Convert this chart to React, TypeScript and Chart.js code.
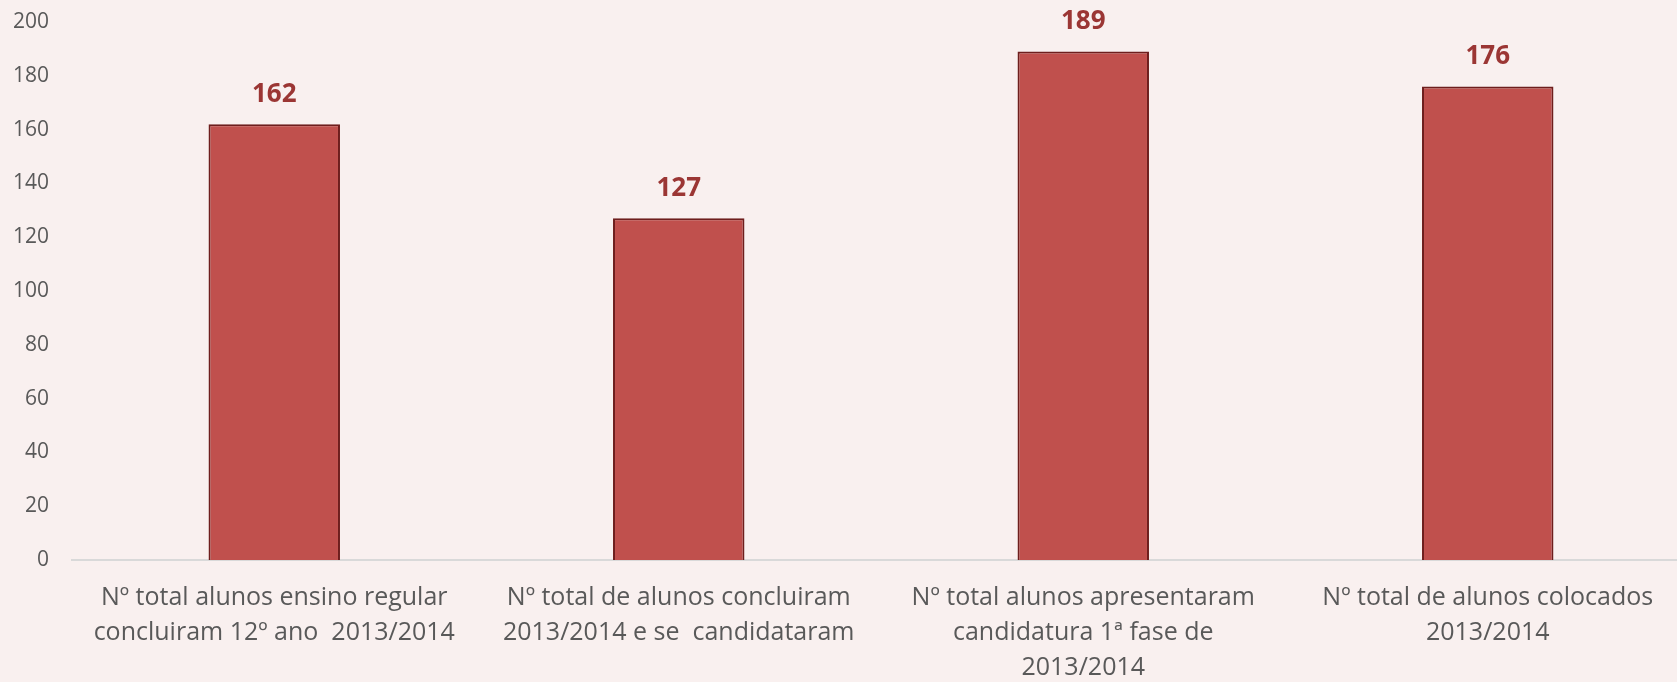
import React, { useEffect, useRef } from "react";
import { Chart, registerables } from "chart.js";

Chart.register(...registerables);

const categories: string[][] = [
  ["Nº total alunos ensino regular", "concluiram 12º ano  2013/2014"],
  ["Nº total de alunos concluiram", "2013/2014 e se  candidataram"],
  ["Nº total alunos apresentaram", "candidatura 1ª fase de", "2013/2014"],
  ["Nº total de alunos colocados", "2013/2014"],
];
const values: number[] = [162, 127, 189, 176];
const yMin = 0;
const yMax = 200;
const yStep = 20;

const FONT = "'Open Sans', Lato, sans-serif";

const valueLabels = {
  id: "valueLabels",
  afterDatasetsDraw(chart: any) {
    const ctx = chart.ctx;
    const meta = chart.getDatasetMeta(0);
    ctx.save();
    ctx.font = `bold 26px ${FONT}`;
    ctx.fillStyle = "#9b3634";
    ctx.textAlign = "center";
    ctx.textBaseline = "middle";
    meta.data.forEach((el: any, i: number) => {
      ctx.fillText(String(chart.data.datasets[0].data[i]), el.x, el.y - 30);
    });
    ctx.restore();
  },
};

export default function App() {
  const ref = useRef<HTMLCanvasElement>(null);
  useEffect(() => {
    document.body.style.margin = "0";
    const chart = new Chart(ref.current!, {
      type: "bar",
      data: {
        labels: categories,
        datasets: [
          {
            data: values,
            backgroundColor: "#c0504d",
            borderColor: "#6e1e1d",
            borderWidth: 2,
            barPercentage: 0.325,
            categoryPercentage: 1,
          },
        ],
      },
      options: {
        responsive: false,
        animation: false,
        layout: { padding: { top: 22, right: 0, bottom: 0, left: 0 } },
        plugins: { legend: { display: false }, tooltip: { enabled: false } },
        scales: {
          x: {
            grid: { display: false, drawTicks: false },
            border: { display: true, color: "#d9d9d9", width: 2 },
            ticks: {
              color: "#595959",
              font: { family: FONT, size: 25, lineHeight: 1.4 },
              padding: 20,
              maxRotation: 0,
              minRotation: 0,
              autoSkip: false,
            },
            afterFit: (s: any) => {
              s.height = 122;
              s.paddingTop = 0;
              s.paddingBottom = 0;
            },
          },
          y: {
            min: yMin,
            max: yMax,
            grid: { display: false, drawTicks: false },
            border: { display: false },
            ticks: {
              stepSize: yStep,
              color: "#595959",
              font: { family: FONT, size: 21 },
              padding: 23,
            },
            afterFit: (s: any) => {
              s.width = 72;
              s.paddingTop = 0;
              s.paddingBottom = 0;
            },
          },
        },
      },
      plugins: [valueLabels],
    });
    return () => chart.destroy();
  }, []);
  return (
    <div
      style={{
        width: 1677,
        height: 682,
        overflow: "hidden",
        background: "#f9f0ef",
        position: "relative",
      }}
    >
      <canvas ref={ref} width={1690} height={682} style={{ display: "block" }} />
    </div>
  );
}
